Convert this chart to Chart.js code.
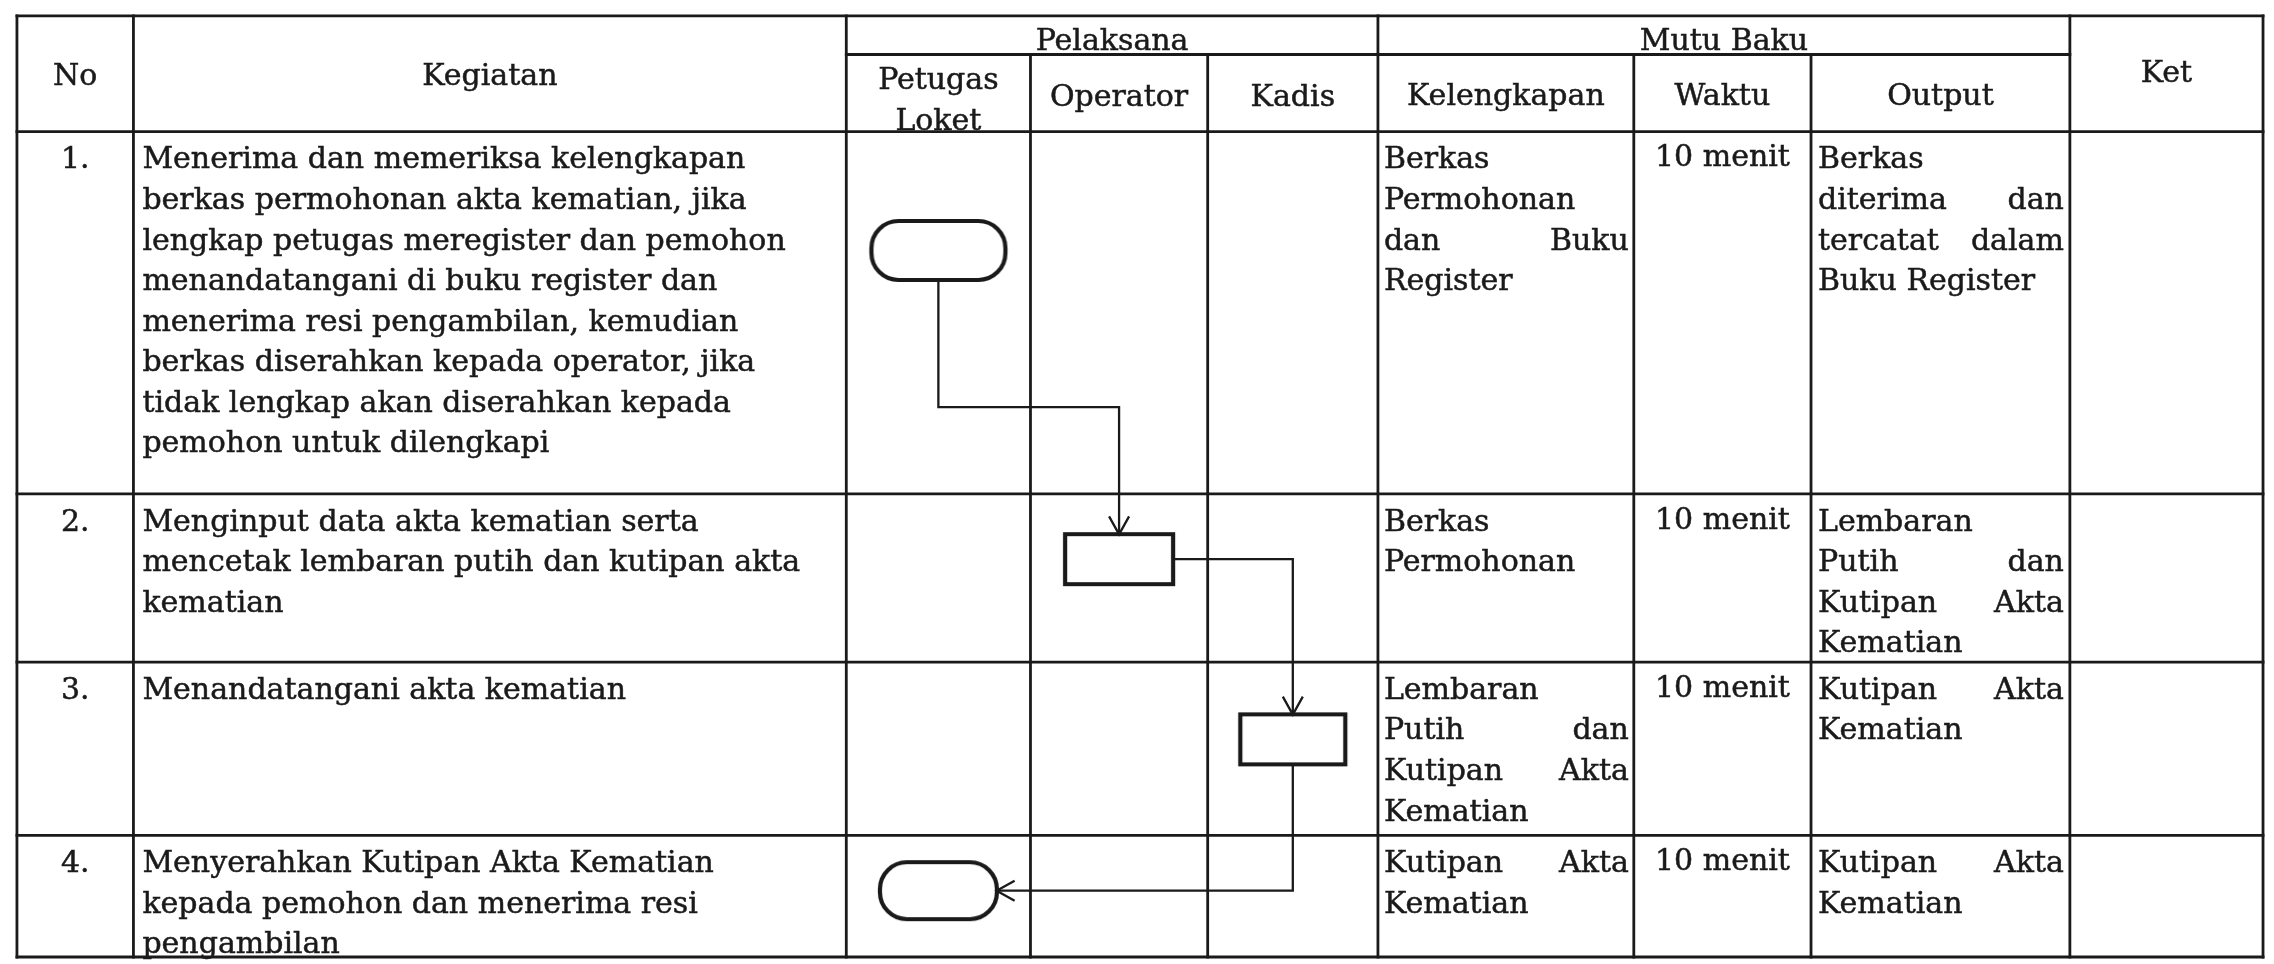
<!DOCTYPE html>
<html>
<head>
<meta charset="utf-8">
<script src="https://cdn.jsdelivr.net/npm/chart.js@4.4.1/dist/chart.umd.min.js"></script>
<style>
html,body{margin:0;padding:0;background:#fff}
canvas{display:block}
</style>
</head>
<body>
<canvas id="sop" width="2274" height="964"></canvas>
<script>
// isi tabel
const judulKolom = ['No','Kegiatan','Pelaksana','Mutu Baku','Ket']
const pelaksana = [['Petugas','Loket'],['Operator'],['Kadis']]
const mutuBaku = ['Kelengkapan','Waktu','Output']
const nomor = ['1.','2.','3.','4.']
const kegiatan = [
  ['Menerima dan memeriksa kelengkapan','berkas permohonan akta kematian, jika','lengkap petugas meregister dan pemohon','menandatangani di buku register dan','menerima resi pengambilan, kemudian','berkas diserahkan kepada operator, jika','tidak lengkap akan diserahkan kepada','pemohon untuk dilengkapi'],
  ['Menginput data akta kematian serta','mencetak lembaran putih dan kutipan akta','kematian'],
  ['Menandatangani akta kematian'],
  ['Menyerahkan Kutipan Akta Kematian','kepada pemohon dan menerima resi','pengambilan']
]
const kelengkapan = [
  ['Berkas','Permohonan','dan Buku','Register'],
  ['Berkas','Permohonan'],
  ['Lembaran','Putih dan','Kutipan Akta','Kematian'],
  ['Kutipan Akta','Kematian']
]
const waktu = ['10 menit','10 menit','10 menit','10 menit']
const output = [
  ['Berkas','diterima dan','tercatat dalam','Buku Register'],
  ['Lembaran','Putih dan','Kutipan Akta','Kematian'],
  ['Kutipan Akta','Kematian'],
  ['Kutipan Akta','Kematian']
]
// alur: pelaksana tiap langkah (0 petugas loket, 1 operator, 2 kadis)
const jalurLangkah = [0,1,2,0]
const simbolLangkah = ['terminator','proses','proses','terminator']
const alur = [[0,1,'bawah-atas'],[1,2,'kanan-atas'],[2,3,'bawah-kanan']]

// tata letak halaman
const W = 2274, H = 964
const colX = [12,129,845,1030,1208,1379,1636,1814,2074,2268]
const rowY = [11,50,128,494,664,839,962]
const posSimbol = [0.328,0.388,0.446,0.455]
const lebarSimbol = [134,108,105,117]
const tinggiSimbol = [59,50,50,57]
const LH = 41
const FONT = '30px "DejaVu Serif", "Liberation Serif", serif'
const INK = '#1a1a1a'

function gambarSimbol(jenis, w, h){
  const c = document.createElement('canvas')
  c.width = w + 8
  c.height = h + 8
  const g = c.getContext('2d')
  g.lineWidth = 4.2
  g.strokeStyle = INK
  g.fillStyle = '#fff'
  g.beginPath()
  if(jenis==='terminator') g.roundRect(4,4,w,h,[27])
  else g.rect(4,4,w,h)
  g.fill()
  g.stroke()
  return c
}

const simbol = jalurLangkah.map((lane,i)=>{
  const x = (colX[2+lane]+colX[3+lane])/2
  const y = rowY[2+i] + posSimbol[i]*(rowY[3+i]-rowY[2+i])
  return {x, y, w:lebarSimbol[i], h:tinggiSimbol[i]}
})

function jalurPanah(a, b, tipe){
  const s = simbol[a], t = simbol[b]
  if(tipe==='bawah-atas'){
    const y0 = s.y+s.h/2, y1 = t.y-t.h/2, m = (y0+y1)/2
    return [{x:s.x,y:y0},{x:s.x,y:m},{x:t.x,y:m},{x:t.x,y:y1}]
  }
  if(tipe==='kanan-atas'){
    return [{x:s.x+s.w/2,y:s.y},{x:t.x,y:s.y},{x:t.x,y:t.y-t.h/2}]
  }
  return [{x:s.x,y:s.y+s.h/2},{x:s.x,y:t.y},{x:t.x+t.w/2,y:t.y}]
}

const dsPanah = alur.map(([a,b,tipe])=>({
  type:'scatter', showLine:true, data:jalurPanah(a,b,tipe),
  borderColor:INK, borderWidth:2.3, pointRadius:0, tension:0, order:1
}))
const dsSimbol = {
  type:'scatter', data:simbol.map(s=>({x:s.x,y:s.y})),
  pointStyle:simbol.map((s,i)=>gambarSimbol(simbolLangkah[i],s.w,s.h)),
  pointRadius:3, order:0
}

function teks(ctx, t, x, y){
  ctx.fillText(t, x, y)
  ctx.strokeText(t, x, y)
}

function tulisSel(ctx, X, Y, baris, x0, x1, yc, rata){
  baris.forEach((t,i)=>{
    const yy = Y(yc + i*LH) + 10
    if(rata==='tengah'){
      ctx.textAlign = 'center'
      teks(ctx, t, X((x0+x1)/2), yy)
    }else if(rata==='rata' && i<baris.length-1 && t.includes(' ')){
      const kata = t.split(' ')
      ctx.textAlign = 'left'
      const total = kata.reduce((s,k)=>s+ctx.measureText(k).width,0)
      const sela = (X(x1)-X(x0)-total)/(kata.length-1)
      let x = X(x0)
      kata.forEach(k=>{ teks(ctx,k,x,yy); x += ctx.measureText(k).width+sela })
    }else{
      ctx.textAlign = 'left'
      teks(ctx, t, X(x0), yy)
    }
  })
}

const tabelPlugin = {
  id:'tabel',
  beforeDatasetsDraw(chart){
    const ctx = chart.ctx
    const xs = chart.scales.x, ys = chart.scales.y
    const X = v=>xs.getPixelForValue(v), Y = v=>ys.getPixelForValue(v)
    ctx.save()
    ctx.strokeStyle = INK
    ctx.lineWidth = 2.8
    ctx.lineCap = 'square'
    const garis = (x0,y0,x1,y1)=>{ ctx.beginPath(); ctx.moveTo(X(x0),Y(y0)); ctx.lineTo(X(x1),Y(y1)); ctx.stroke() }
    const L = colX[0], R = colX[colX.length-1], T = rowY[0], B = rowY[rowY.length-1]
    // garis mendatar
    garis(L,T,R,T)
    garis(colX[2],rowY[1],colX[8],rowY[1])
    for(let r=2;r<rowY.length;r++) garis(L,rowY[r],R,rowY[r])
    // garis tegak
    ;[0,1,2,5,8,9].forEach(c=>garis(colX[c],T,colX[c],B))
    ;[3,4,6,7].forEach(c=>garis(colX[c],rowY[1],colX[c],B))

    ctx.fillStyle = INK
    ctx.lineWidth = 0.5
    ctx.font = FONT
    ctx.textBaseline = 'alphabetic'
    const hTengah = 71
    tulisSel(ctx,X,Y,[judulKolom[0]],colX[0],colX[1],hTengah,'tengah')
    tulisSel(ctx,X,Y,[judulKolom[1]],colX[1],colX[2],hTengah,'tengah')
    tulisSel(ctx,X,Y,[judulKolom[2]],colX[2],colX[5],rowY[0]+24,'tengah')
    tulisSel(ctx,X,Y,[judulKolom[3]],colX[5],colX[8],rowY[0]+24,'tengah')
    tulisSel(ctx,X,Y,[judulKolom[4]],colX[8],colX[9],hTengah-3,'tengah')
    pelaksana.forEach((p,i)=>{
      const yc = p.length>1 ? 75 : 92
      tulisSel(ctx,X,Y,p,colX[2+i],colX[3+i],yc,'tengah')
    })
    mutuBaku.forEach((m,i)=>tulisSel(ctx,X,Y,[m],colX[5+i],colX[6+i],91,'tengah'))

    nomor.forEach((n,i)=>{
      const yc = rowY[2+i]+27
      tulisSel(ctx,X,Y,[n],colX[0],colX[1],yc,'tengah')
      tulisSel(ctx,X,Y,kegiatan[i],colX[1]+9,colX[2]-6,yc,'kiri')
      tulisSel(ctx,X,Y,kelengkapan[i],colX[5]+6,colX[6]-5,yc,'rata')
      tulisSel(ctx,X,Y,[waktu[i]],colX[6],colX[7],yc-2,'tengah')
      tulisSel(ctx,X,Y,output[i],colX[7]+7,colX[8]-6,yc,'rata')
    })
    ctx.restore()
  }
}

const panahPlugin = {
  id:'panah',
  afterDatasetsDraw(chart){
    const ctx = chart.ctx
    const xs = chart.scales.x, ys = chart.scales.y
    ctx.save()
    ctx.strokeStyle = INK
    ctx.lineWidth = 2.3
    dsPanah.forEach(ds=>{
      const p = ds.data
      const a = p[p.length-2], b = p[p.length-1]
      const bx = xs.getPixelForValue(b.x), by = ys.getPixelForValue(b.y)
      const ang = Math.atan2(by-ys.getPixelForValue(a.y), bx-xs.getPixelForValue(a.x))
      ctx.beginPath()
      ctx.moveTo(bx-18*Math.cos(ang)+10*Math.sin(ang), by-18*Math.sin(ang)-10*Math.cos(ang))
      ctx.lineTo(bx,by)
      ctx.lineTo(bx-18*Math.cos(ang)-10*Math.sin(ang), by-18*Math.sin(ang)+10*Math.cos(ang))
      ctx.stroke()
    })
    ctx.restore()
  }
}

new Chart(document.getElementById('sop'),{
  type:'scatter',
  data:{datasets:[dsSimbol, ...dsPanah]},
  options:{
    responsive:false, animation:false, events:[],
    layout:{padding:0},
    plugins:{legend:{display:false}, tooltip:{enabled:false}},
    scales:{
      x:{type:'linear',min:0,max:W,display:false},
      y:{type:'linear',min:0,max:H,reverse:true,display:false}
    }
  },
  plugins:[tabelPlugin, panahPlugin]
})
</script>
</body>
</html>
